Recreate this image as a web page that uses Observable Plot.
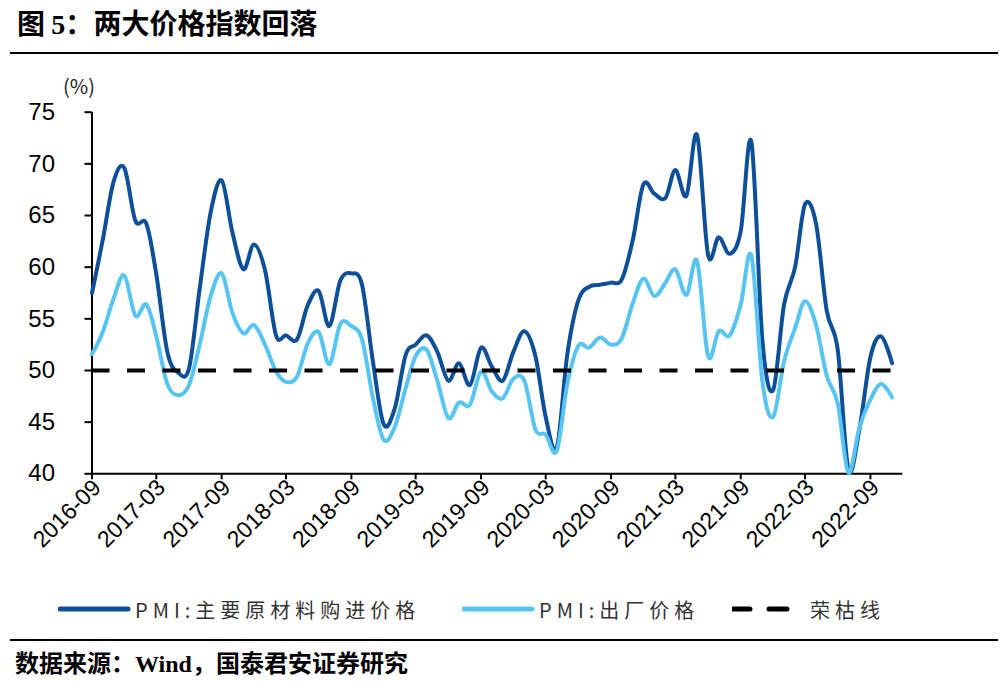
<!DOCTYPE html>
<html><head><meta charset="utf-8">
<script src="https://cdn.jsdelivr.net/npm/d3@7"></script>
<script src="https://cdn.jsdelivr.net/npm/@observablehq/plot@0.6"></script>
<style>
body{margin:0;background:#fff;width:1006px;height:683px;position:relative;overflow:hidden;font-family:"Noto Sans CJK SC",sans-serif;color:#000;}
#title{position:absolute;left:17px;top:2px;font-size:28px;font-weight:700;line-height:40px;white-space:nowrap;}
.serif{font-family:"Liberation Serif","Noto Sans CJK SC",serif;}
.rule{position:absolute;left:10px;width:988px;height:2px;background:#000;}
#chart{position:absolute;left:0;top:60px;}
#unit{position:absolute;left:63px;top:73px;font-size:20px;line-height:26px;color:#222;}
.item{position:absolute;top:594px;height:30px;display:flex;align-items:center;font-size:20px;letter-spacing:5px;color:#333;white-space:nowrap;}
#footer{position:absolute;left:15px;top:646px;font-size:24px;font-weight:700;line-height:32px;white-space:nowrap;}
</style></head>
<body>
<div id="title">图 <span class="serif">5：</span>两大价格指数回落</div>
<div class="rule" style="top:52px"></div>
<div id="chart"></div>
<div id="unit">(%)</div>
<div id="legend"></div>
<div class="rule" style="top:639px"></div>
<div id="footer">数据来源：<span class="serif">Wind</span>，国泰君安证券研究</div>
<script>
// Monthly data 2016-09 .. 2022-11
const startMonth = new Date(Date.UTC(2016, 8, 1));
const endMonth = new Date(Date.UTC(2022, 11, 1));
const months = d3.utcMonth.range(startMonth, endMonth);

const seriesNames = ["PMI:主要原材料购进价格", "PMI:出厂价格", "荣枯线"];
const seriesColors = ["#0d4f98", "#58c4f2", "#000000"];

const inputPrice = [
  57.5, 62.6, 68.3, 69.6,
  64.5, 64.2, 59.3, 51.8, 49.8, 50.2, 57.9, 65.3, 68.4, 63.4, 59.8, 62.2,
  59.7, 53.4, 53.4, 53.0, 56.3, 57.7, 54.3, 58.7, 59.4, 58.3, 50.8, 44.8,
  46.3, 51.5, 52.5, 53.4, 51.8, 49.0, 50.7, 48.6, 52.2, 50.4, 49.0, 51.8,
  53.8, 51.4, 45.5, 42.5, 51.6, 56.8, 58.1, 58.3, 58.5, 58.8, 62.6, 68.0,
  67.1, 66.7, 69.4, 66.9, 72.8, 61.2, 62.9, 61.3, 63.5, 72.1, 52.9, 48.1,
  56.4, 60.0, 66.1, 64.2, 55.8, 52.0, 40.4, 44.3, 51.3, 53.3, 50.7
];
const outputPrice = [
  51.6, 53.7, 57.0, 59.2,
  55.3, 56.4, 53.3, 48.7, 47.6, 48.6, 52.5, 57.2, 59.4, 55.6, 53.6, 54.4,
  52.5, 49.9, 48.9, 49.4, 52.6, 53.7, 50.6, 54.5, 54.3, 53.0, 47.3, 43.3,
  44.5, 48.3, 51.4, 52.0, 49.0, 45.4, 46.9, 46.7, 49.9, 48.0, 47.3, 49.2,
  49.0, 44.3, 43.8, 42.2, 48.7, 52.4, 52.2, 53.2, 52.5, 53.1, 56.5, 58.9,
  57.2, 58.5, 59.8, 57.3, 60.6, 51.4, 53.8, 53.4, 56.4, 61.1, 48.9, 45.5,
  50.9, 54.1, 56.7, 54.4, 49.5, 46.8, 40.1, 44.5, 47.2, 48.7, 47.4
];
const boomBust = 50;
const yTicks = [40, 45, 50, 55, 60, 65, 70, 75];
const xTicks = d3.utcMonth.range(startMonth, new Date(Date.UTC(2022, 9, 1)), 6);

const data = months.map((d, i) => ({date: d, input: inputPrice[i], output: outputPrice[i]}));

const chart = Plot.plot({
  width: 1006,
  height: 530,
  marginLeft: 91.5,
  marginRight: 103.75,
  marginTop: 51.7,
  marginBottom: 116.7,
  style: {background: "transparent", overflow: "visible", fontFamily: "'Liberation Sans', Arial, sans-serif", color: "#000"},
  x: {type: "utc", domain: [startMonth, endMonth]},
  y: {domain: [40, 75]},
  marks: [
    Plot.axisY({ticks: yTicks, tickSize: 7, tickPadding: 30, strokeWidth: 2, fontSize: 24, label: null, stroke: "#000"}),
    Plot.axisX({ticks: xTicks, tickFormat: d3.utcFormat("%Y-%m"), tickSize: 6, tickPadding: 4, tickRotate: -45, strokeWidth: 2, fontSize: 23, label: null, stroke: "#000", textStroke: "none"}),
    Plot.ruleY([40], {stroke: "#000", strokeWidth: 2}),
    Plot.ruleX([startMonth], {stroke: "#000", strokeWidth: 2}),
    Plot.line(data, {x: "date", y: "input", stroke: seriesColors[0], strokeWidth: 4, curve: "cardinal", tension: 0}),
    Plot.line(data, {x: "date", y: "output", stroke: seriesColors[1], strokeWidth: 4, curve: "cardinal", tension: 0}),
    Plot.ruleY([boomBust], {stroke: seriesColors[2], strokeWidth: 4, strokeDasharray: "18,17.5"})
  ]
});
document.getElementById("chart").appendChild(chart);
// nudge rotated x labels slightly right, like the reference
chart.querySelectorAll("g[aria-label='x-axis tick label']").forEach(g => {
  g.setAttribute("transform", (g.getAttribute("transform") || "") + " translate(5,0)");
});

// Legend
const legend = document.getElementById("legend");
const legendLeft = [58, 462, 732];
seriesNames.forEach((name, i) => {
  const item = document.createElement("div");
  item.className = "item";
  item.style.left = legendLeft[i] + "px";
  const sw = i < 2
    ? `<svg width="74" height="10" style="margin-right:3px"><line x1="2" y1="5" x2="70" y2="5" stroke="${seriesColors[i]}" stroke-width="5" stroke-linecap="round"/></svg>`
    : `<svg width="78" height="10"><line x1="0" y1="5" x2="56" y2="5" stroke="#000" stroke-width="5" stroke-dasharray="18,19" stroke-linecap="round"/></svg>`;
  item.innerHTML = sw + `<span>${name}</span>`;
  legend.appendChild(item);
});
</script>
</body></html>
